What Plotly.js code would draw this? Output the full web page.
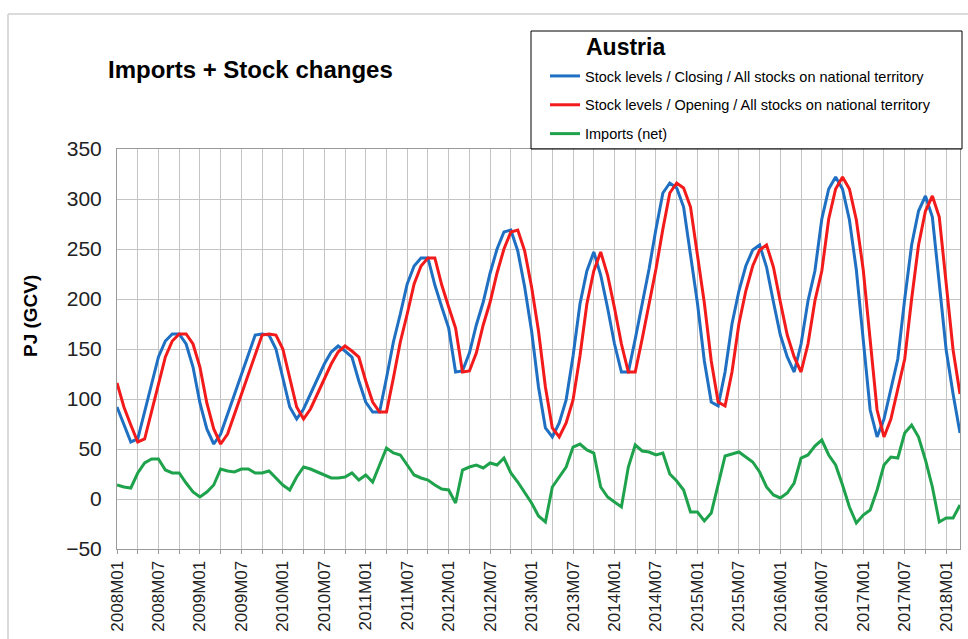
<!DOCTYPE html>
<html><head><meta charset="utf-8">
<script src="https://cdn.plot.ly/plotly-3.0.1.min.js"></script>
<style>html,body{margin:0;padding:0;background:#fff}#chart{width:968px;height:639px}</style>
</head><body><div id="chart"></div>
<script>
const months = [
"2008M01","2008M02","2008M03","2008M04","2008M05","2008M06","2008M07","2008M08","2008M09","2008M10","2008M11","2008M12",
"2009M01","2009M02","2009M03","2009M04","2009M05","2009M06","2009M07","2009M08","2009M09","2009M10","2009M11","2009M12",
"2010M01","2010M02","2010M03","2010M04","2010M05","2010M06","2010M07","2010M08","2010M09","2010M10","2010M11","2010M12",
"2011M01","2011M02","2011M03","2011M04","2011M05","2011M06","2011M07","2011M08","2011M09","2011M10","2011M11","2011M12",
"2012M01","2012M02","2012M03","2012M04","2012M05","2012M06","2012M07","2012M08","2012M09","2012M10","2012M11","2012M12",
"2013M01","2013M02","2013M03","2013M04","2013M05","2013M06","2013M07","2013M08","2013M09","2013M10","2013M11","2013M12",
"2014M01","2014M02","2014M03","2014M04","2014M05","2014M06","2014M07","2014M08","2014M09","2014M10","2014M11","2014M12",
"2015M01","2015M02","2015M03","2015M04","2015M05","2015M06","2015M07","2015M08","2015M09","2015M10","2015M11","2015M12",
"2016M01","2016M02","2016M03","2016M04","2016M05","2016M06","2016M07","2016M08","2016M09","2016M10","2016M11","2016M12",
"2017M01","2017M02","2017M03","2017M04","2017M05","2017M06","2017M07","2017M08","2017M09","2017M10","2017M11","2017M12",
"2018M01","2018M02","2018M03"];

const tickLabels = ["2008M01","2008M07","2009M01","2009M07","2010M01","2010M07","2011M01","2011M07",
"2012M01","2012M07","2013M01","2013M07","2014M01","2014M07","2015M01","2015M07","2016M01","2016M07",
"2017M01","2017M07","2018M01"];

const closing = [
92,74,57,60,88,115,142,158,165,165,155,132,
96,70,55,65,85,105,125,145,164,165,164,150,
122,92,80,90,105,120,135,147,153,148,142,118,
97,87,87,121,157,185,215,233,241,241,214,192,
171,127,128,146,174,197,226,250,267,269,248,212,
168,112,71,62,76,99,143,195,228,247,224,191,
155,127,127,160,194,230,270,306,316,311,292,246,
196,138,97,93,127,175,208,233,249,254,232,197,
164,142,127,155,198,228,280,310,322,310,279,229,
158,89,62,80,110,140,200,254,288,303,282,212,
149,105,66];

const opening = [
116,92,74,57,60,88,115,142,158,165,165,155,
132,96,70,55,65,85,105,125,145,164,165,164,
150,122,92,80,90,105,120,135,147,153,148,142,
118,97,87,87,121,157,185,215,233,241,241,214,
192,171,127,128,146,174,197,226,250,267,269,248,
212,168,112,71,62,76,99,143,195,228,247,224,
191,155,127,127,160,194,230,270,306,316,311,292,
246,196,138,97,93,127,175,208,233,249,254,232,
197,164,142,127,155,198,228,280,310,322,310,279,
229,158,89,62,80,110,140,200,254,288,303,282,
212,149,105];

const importsNet = [
14,12,11,26,36,40,40,29,26,26,16,7,
2,7,14,30,28,27,30,30,26,26,28,21,
14,9,22,32,30,27,24,21,21,22,26,19,
24,17,34,51,46,44,34,24,21,19,14,10,
9,-4,29,32,34,31,36,34,41,26,17,7,
-4,-17,-23,12,22,32,52,55,49,46,12,2,
-3,-8,32,54,48,47,44,46,25,18,9,-13,
-13,-22,-14,16,43,45,47,42,37,27,12,4,
1,6,16,41,44,53,59,44,34,14,-8,-24,
-16,-11,9,34,42,41,66,74,62,39,12,-23,
-19,-19,-6];

const seriesNames = [
"Stock levels / Closing / All stocks on national territory",
"Stock levels / Opening / All stocks on national territory",
"Imports (net)"];
const seriesColors = ["#1f6fc2", "#f21a1a", "#1fa24c"];
const countryName = "Austria";

const FONT = "Liberation Sans, Arial, sans-serif";
const gridVals = months.filter((m, i) => i % 3 === 0);
const gridText = gridVals.map(m => tickLabels.includes(m) ? m : "");

const traces = [closing, opening, importsNet].map((ys, k) => ({
  type: "scatter", mode: "lines", x: months, y: ys,
  name: seriesNames[k], legendgroup: "g" + k,
  line: {color: seriesColors[k], width: 3}
}));

// px -> paper helpers for decoration only
const L = 117, R = 960, T = 149, B = 549;
const px = v => (v - L) / (R - L);
const py = v => (B - v) / (B - T);

const layout = {
  width: 968, height: 639,
  margin: {l: L, r: 968 - R, t: T, b: 639 - B},
  paper_bgcolor: "#fff", plot_bgcolor: "#fff",
  font: {family: FONT, color: "#000"},
  showlegend: true,
  title: {
    text: "<b>Imports + Stock changes</b>",
    font: {family: FONT, size: 24, color: "#000"},
    xref: "container", yref: "container",
    x: 108 / 968, xanchor: "left", y: 1 - 70 / 639, yanchor: "middle"
  },
  xaxis: {
    type: "category", range: [0, months.length - 1],
    tickmode: "array", tickvals: gridVals, ticktext: gridText,
    tickangle: -90, tickfont: {family: FONT, size: 17, color: "#222"},
    showgrid: true, gridcolor: "#c4c4c4", gridwidth: 1,
    showline: true, linecolor: "#9a9a9a", linewidth: 1, mirror: true,
    ticks: "outside", ticklen: 4, tickcolor: "#9a9a9a",
    automargin: false
  },
  yaxis: {
    range: [-50, 350], dtick: 50, tick0: 0,
    tickfont: {family: FONT, size: 21, color: "#222"},
    showgrid: true, gridcolor: "#c4c4c4", gridwidth: 1,
    zeroline: false,
    showline: true, linecolor: "#9a9a9a", linewidth: 1, mirror: true,
    ticklabelstandoff: 10,
    automargin: false
  },
  legend: {
    x: px(545), y: py(60), xanchor: "left", yanchor: "top",
    bgcolor: "rgba(0,0,0,0)", borderwidth: 0,
    font: {family: FONT, size: 14.5, color: "#000"},
    traceorder: "grouped", tracegroupgap: 7
  },
  annotations: [
    {text: "<b>" + countryName + "</b>", xref: "paper", yref: "paper",
     x: px(584), y: py(47), xanchor: "left", yanchor: "middle", showarrow: false,
     font: {family: FONT, size: 23, color: "#000"}},
    {text: "<b>PJ (GCV)</b>", xref: "paper", yref: "paper", textangle: -90,
     x: px(30), y: py(316), xanchor: "center", yanchor: "middle", showarrow: false,
     font: {family: FONT, size: 19, color: "#000"}}
  ],
  shapes: [
    {type: "rect", xref: "paper", yref: "paper", x0: px(531), x1: px(962), y0: 1, y1: py(31),
     line: {color: "#000", width: 1}, fillcolor: "rgba(0,0,0,0)"},
    {type: "line", xref: "paper", yref: "paper", x0: px(8), x1: px(968), y0: py(14), y1: py(14),
     line: {color: "#cfcfcf", width: 1.5}},
    {type: "line", xref: "paper", yref: "paper", x0: px(8), x1: px(8), y0: py(14), y1: py(639),
     line: {color: "#cfcfcf", width: 1.5}}
  ]
};

Plotly.newPlot("chart", traces, layout, {displayModeBar: false, staticPlot: true});
</script>
</body></html>
